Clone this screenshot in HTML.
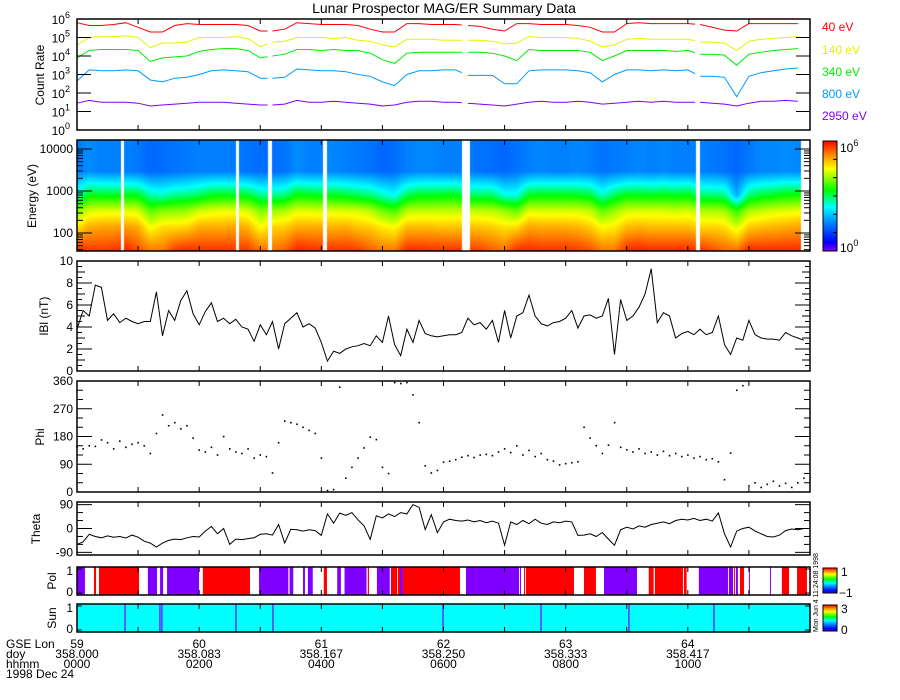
<!DOCTYPE html>
<html><head><meta charset="utf-8"><title>Lunar Prospector MAG/ER Summary Data</title>
<style>
html,body{margin:0;padding:0;background:#fff;}
#wrap{position:relative;width:900px;height:700px;overflow:hidden;background:#fff;}
svg{position:absolute;left:0;top:0;}
canvas{position:absolute;left:77px;top:140px;}
text{font-family:"Liberation Sans",sans-serif;}
</style></head>
<body>
<div id="wrap">
<canvas id="spec" width="734" height="111"></canvas>
<svg id="svg" width="900" height="700" xmlns="http://www.w3.org/2000/svg"></svg>
</div>
<script>
// ---------- DATA ----------
const countStart = 59.0;
const countStep = 0.1;
const channelNames = ["40 eV","140 eV","340 eV","800 eV","2950 eV"];
const channelEnergies = [40,140,340,800,2950];
const c40 = [5.8,5.65,5.65,5.7,5.8,5.55,5.3,5.3,5.65,5.75, 5.7,5.7,5.7,5.7,5.65,5.35,5.35,5.45,5.8,5.75, 5.7,5.7,5.7,5.65,5.45,5.3,5.3,5.75,5.75,5.7, 5.7,5.7,5.65,5.6,5.45,5.35,5.75,5.75,5.7,5.7, 5.7,5.65,5.55,5.3,5.3,5.75,5.8,5.75,5.75,5.75, 5.75,5.7,5.55,5.4,5.35,5.75,5.75,5.75,5.75,5.75, null];
const c140 = [4.6,5.0,5.05,5.05,5.1,5.0,4.45,4.7,4.7,4.75, 5.0,5.0,5.0,5.05,4.95,4.5,4.75,4.8,5.0,5.0, 5.0,4.95,5.0,4.85,4.8,4.6,4.5,4.9,4.9,4.9, 4.85,4.85,4.85,4.85,4.8,4.65,4.7,5.05,5.0,5.0, 5.0,4.95,4.8,4.5,4.6,4.9,4.95,4.9,4.9,4.9, 4.9,4.75,4.75,4.7,4.3,4.8,4.9,4.95,5.0,5.05, null];
const c340 = [3.9,4.3,4.35,4.35,4.35,4.3,3.7,3.9,3.95,4.0, 4.25,4.35,4.4,4.4,4.3,3.9,4.0,4.1,4.35,4.35, 4.3,4.35,4.3,4.3,4.15,3.8,3.6,4.15,4.2,4.2, 4.2,4.2,4.2,4.2,4.15,4.0,3.75,4.35,4.3,4.3, 4.3,4.3,4.2,3.75,4.0,4.3,4.3,4.3,4.3,4.25, 4.3,4.1,4.1,4.05,3.5,4.1,4.2,4.3,4.35,4.4, null];
const c800 = [2.65,3.25,3.2,3.2,3.25,3.2,2.7,2.6,2.8,2.85, 3.0,3.2,3.25,3.2,3.15,2.8,2.8,2.85,3.3,3.25, 3.2,3.2,3.15,3.0,2.9,2.6,2.4,3.0,3.2,3.2, 3.25,3.25,2.95,2.95,2.95,2.5,2.5,3.2,3.25,3.25, 3.25,3.2,3.1,2.6,3.0,3.25,3.25,3.2,3.25,3.2, 3.25,2.9,2.9,2.85,1.8,2.9,3.1,3.2,3.3,3.35, null];
const c2950 = [1.45,1.6,1.5,1.5,1.5,1.45,1.3,1.35,1.4,1.45, 1.5,1.5,1.5,1.45,1.4,1.35,1.35,1.4,1.6,1.5, 1.5,1.55,1.5,1.45,1.4,1.3,1.35,1.5,1.55,1.55, 1.5,1.5,1.45,1.4,1.35,1.3,1.4,1.5,1.55,1.5, 1.5,1.55,1.5,1.4,1.45,1.5,1.55,1.5,1.55,1.5, 1.5,1.5,1.45,1.4,1.3,1.45,1.55,1.55,1.6,1.55, null];
const lineGaps = [[60.56,60.6],[62.15,62.2],[64.06,64.1]];
const specGaps = [[59.36,59.385],[60.303,60.328],[60.566,60.598],[61.016,61.049],[62.148,62.221],[64.066,64.098]];
const specEnd = 64.93;

const magStart = 59.0;
const magStep = 0.05;
const bMag = [3.8,5.5,5.0,7.8,7.6,4.6,5.2,4.4,4.8,4.5, 4.3,4.5,4.5,7.2,3.2,5.5,4.6,6.4,7.3,5.2, 4.2,5.4,6.2,4.5,4.8,4.3,4.7,4.0,3.8,2.7, 4.2,3.3,4.5,2.0,4.3,4.8,5.3,4.0,4.3,3.9, 2.6,0.9,1.8,1.6,2.0,2.2,2.3,2.5,2.3,3.2, 2.6,5.0,2.4,1.4,3.8,2.6,4.6,3.4,3.2,3.1, 3.2,3.3,3.3,3.5,4.8,4.2,4.4,3.8,4.6,2.6, 5.5,3.0,5.0,5.3,6.9,5.0,4.3,4.1,4.4,4.5, 4.8,5.5,3.9,5.0,5.1,4.8,5.0,6.6,1.5,6.5, 4.6,5.0,5.8,7.0,9.3,4.4,5.3,5.0,3.0,3.4, 3.6,3.3,3.8,3.3,3.5,5.0,2.4,1.5,3.0,2.8, 4.6,3.3,3.0,2.9,2.9,2.8,3.5,3.2,3.0,2.8, null];
const phi = [146,140,150,148,169,160,140,165,145,155, 160,150,125,190,250,215,225,205,215,175, 136,130,145,120,180,140,130,125,140,110, 120,115,62,160,230,225,220,210,200,190, 110,5,8,340,45,80,110,143,178,170, 80,60,355,352,355,315,225,85,62,70, 97,100,105,113,118,112,120,122,118,130, 140,128,150,120,135,115,125,105,100,88, 92,95,98,210,175,150,125,152,225,145, 137,130,140,125,130,120,132,118,125,115, 120,110,115,105,108,98,40,126,330,345, 20,30,15,25,35,20,28,15,30,45, null];
const theta = [-60,-50,-22,-30,-35,-28,-33,-30,-36,-25, -33,-48,-55,-70,-55,-45,-40,-42,-35,-30, -32,-10,8,-20,0,-60,-40,-42,-38,-35, -22,-20,-25,15,-55,-3,-5,-10,-5,-8, -26,55,20,58,50,60,33,10,-41,48, 40,55,45,60,55,90,80,-4,52,-16, 25,35,30,28,32,25,30,22,28,20, -63,25,15,30,18,35,20,15,25,22, 28,25,-26,-25,-20,-30,-15,-40,-63,-5, 5,-2,10,5,15,20,25,18,30,35, 32,38,30,35,28,59,-20,-70,-10,0, 5,-10,-20,-30,-32,-25,-8,-2,-5,0, null];
// polarity segments: start lon, end lon, value (1 = red, -1 = purple)
const polStart = [59.0,59.139,59.18,59.58,59.68,59.737,60.03,60.49,60.74,60.85,60.89,61.02,61.13,61.19,61.38,61.455,61.57,61.627,61.644,61.668,62.184,62.626,62.659,62.675,63.15,63.314,63.68,63.73,63.968,64.09,64.337,64.378,64.394,64.427,64.5,64.672,64.77,64.894];
const polEnd   = [59.065,59.156,59.508,59.655,59.705,59.999,60.416,60.73,60.77,60.866,60.93,61.046,61.16,61.37,61.39,61.56,61.62,61.644,61.668,62.135,62.618,62.634,62.667,63.068,63.248,63.584,63.72,63.96,63.99,64.33,64.37,64.386,64.41,64.46,64.508,64.68,64.828,64.975];
const polVal   = [-1,1,1,-1,-1,-1,1,-1,-1,-1,-1,1,-1,-1,1,-1,1,1,-1,1,-1,-1,1,1,1,-1,1,1,1,-1,-1,1,-1,1,-1,-1,1,1];
const sunLines = [59.393,59.679,59.695,60.301,60.604,61.996,62.798,63.518,64.214];
const xTickLon = ["59","60","61","62","63","64"];
const xTickDoy = ["358.000","358.083","358.167","358.250","358.333","358.417"];
const xTickHhmm = ["0000","0200","0400","0600","0800","1000"];

// ---------- GEOMETRY ----------
const X0=77, X1=810, LON0=59, LON1=65;
const xs = t => X0 + (t-LON0)*(X1-X0)/(LON1-LON0);
const P = {
  count:{top:19,bot:130}, spec:{top:140,bot:251}, b:{top:261,bot:371},
  phi:{top:381,bot:492}, theta:{top:502,bot:555}, pol:{top:567,bot:595}, sun:{top:604,bot:632}
};
const yCount = v => P.count.bot - v*(P.count.bot-P.count.top)/6;
const yE = le => 149 + (4-le)*42;
const yB = v => P.b.bot - v*(P.b.bot-P.b.top)/10;
const yPhi = v => P.phi.bot - v*(P.phi.bot-P.phi.top)/360;
const yTh = v => (P.theta.top+P.theta.bot)/2 - v*(P.theta.bot-P.theta.top)/200;

const NS="http://www.w3.org/2000/svg";
const svg=document.getElementById('svg');
function el(tag, attrs, parent){const e=document.createElementNS(NS,tag);for(const k in attrs)e.setAttribute(k,attrs[k]);(parent||svg).appendChild(e);return e;}
function txt(s, x, y, anchor, size, color, parent){const e=el('text',{x:x,y:y,'text-anchor':anchor||'start','font-size':size||12,fill:color||'#000'},parent);e.textContent=s;return e;}

const stops=[[0,[128,0,255]],[0.08,[0,0,255]],[0.25,[0,128,255]],[0.4,[0,255,255]],[0.55,[0,255,0]],[0.75,[255,255,0]],[0.88,[255,128,0]],[1,[255,0,0]]];
function cmap(f){f=Math.max(0,Math.min(1,f));for(let i=1;i<stops.length;i++){if(f<=stops[i][0]){const a=stops[i-1],b=stops[i];const u=(f-a[0])/(b[0]-a[0]);return a[1].map((c,k)=>Math.round(c+(b[1][k]-c)*u));}}return stops[stops.length-1][1];}

const title=txt("Lunar Prospector MAG/ER Summary Data",444,13,'middle',14);



function frame(p,name){const r=el('rect',{x:X0,y:p.top,width:X1-X0,height:p.bot-p.top,fill:'none',stroke:'#000','stroke-width':1.5});

return r;}
function xTicks(p,g){for(let t=LON0;t<=LON1+1e-6;t+=0.5){const x=xs(t);el('line',{x1:x,x2:x,y1:p.top,y2:p.top+5,stroke:'#000'},g);el('line',{x1:x,x2:x,y1:p.bot,y2:p.bot-5,stroke:'#000'},g);}}
function yTick(y,len,g){el('line',{x1:X0,x2:X0+len,y1:y,y2:y,stroke:'#000'},g);el('line',{x1:X1,x2:X1-len,y1:y,y2:y,stroke:'#000'},g);}
function yTitle(s,x,y,name){const e=el('text',{x:x,y:y,'text-anchor':'middle','font-size':12,transform:`rotate(-90 ${x} ${y})`});e.textContent=s;

return e;}
function pw(base,exp,x,y,anchor,color,g){const e=el('text',{x:x,y:y,'text-anchor':anchor,'font-size':12,fill:color||'#000'},g);e.appendChild(document.createTextNode(base));const s=el('tspan',{dy:-6,'font-size':9},e);s.textContent=exp;return e;}
function polyline(vals,start,step,yf,g,color){let d='';let pen=false;for(let i=0;i<vals.length;i++){const v=vals[i];if(v===null){pen=false;continue;}const x=xs(start+i*step),y=yf(v);d+=(pen?'L':'M')+x.toFixed(1)+' '+y.toFixed(1);pen=true;}
return el('path',{d:d,fill:'none',stroke:color,'stroke-width':1},g);}

// ---------- PANEL 1 ----------
const g1=el('g',{});


const channels=[c40,c140,c340,c800,c2950];
const chColors=['#ff0000','#e8f000','#00ee00','#0099ff','#8000ff'];
channels.forEach((arr,i)=>{
  const p=polyline(arr,countStart,countStep,yCount,g1,chColors[i]);
  
  
});
lineGaps.forEach(gp=>{const r=el('rect',{x:xs(gp[0]),y:P.count.top+1,width:xs(gp[1])-xs(gp[0]),height:P.count.bot-P.count.top-2,fill:'#fff'},g1);

});
frame(P.count,'count-rate-frame');
xTicks(P.count,g1);
for(let d=0;d<=6;d++){const y=yCount(d);yTick(y,14,g1);const l=pw('10',String(d),70,y+5,'end','#000',g1);

}
yTitle('Count Rate',44,75,'count-rate-y-title');
const legY=[27,50,72,94,116];
channelNames.forEach((n,i)=>{const t=txt(n,822,legY[i]+4,'start',12,chColors[i]);

});

// ---------- PANEL 2 ----------
(function(){
  const cv=document.getElementById('spec');const ctx=cv.getContext('2d');
  const img=ctx.createImageData(734,111);const le=channelEnergies.map(Math.log10);
  function cAt(arr,t){const f=(t-countStart)/countStep;const i=Math.floor(f);const u=f-i;const a=arr[i],b=arr[Math.min(i+1,arr.length-1)];if(a==null)return b;if(b==null)return a;return a+(b-a)*u;}
  for(let px=0;px<734;px++){
    const t=LON0+(px+0.5)*(LON1-LON0)/(X1-X0);
    let white=t>specEnd;for(const gp of specGaps){if(t>=gp[0]&&t<=gp[1])white=true;}
    const vals=channels.map(a=>cAt(a,t));
    for(let py=0;py<111;py++){
      const idx=(py*734+px)*4;
      if(white||vals.some(v=>v==null)){img.data[idx]=255;img.data[idx+1]=255;img.data[idx+2]=255;img.data[idx+3]=255;continue;}
      const lg=4-((140+py+0.5)-149)/42;let v;
      if(lg<=le[0])v=vals[0];else if(lg>=le[4])v=vals[4];else{for(let k=0;k<4;k++){if(lg<=le[k+1]){const u=(lg-le[k])/(le[k+1]-le[k]);v=vals[k]+(vals[k+1]-vals[k])*u;break;}}}
      const c=cmap(v/6);img.data[idx]=c[0];img.data[idx+1]=c[1];img.data[idx+2]=c[2];img.data[idx+3]=255;
    }
  }
  ctx.putImageData(img,0,0);
})();
const g2=el('g',{});


frame(P.spec,'spectrogram-frame');
xTicks(P.spec,g2);
for(let d=1;d<=4;d++){for(let m=1;m<=9;m++){const y=yE(d+Math.log10(m));if(y<P.spec.top||y>P.spec.bot)continue;yTick(y,m===1?15:6,g2);}}
['100','1000','10000'].forEach((s,i)=>{const t=txt(s,73,yE(i+2)+4,'end',12,'#000',g2);

});
yTitle('Energy (eV)',36,196,'energy-y-title');
const defs=el('defs',{});
const lg=el('linearGradient',{id:'cb',x1:0,y1:1,x2:0,y2:0},defs);
stops.forEach(s=>el('stop',{offset:s[0],'stop-color':`rgb(${s[1].join(',')})`},lg));
const cb=el('rect',{x:823,y:141,width:14,height:110,fill:'url(#cb)',stroke:'#000','stroke-width':1});


for(let k=1;k<6;k++){const y=251-k*110/6;el('line',{x1:833,x2:837,y1:y,y2:y,stroke:'#000'});}
pw('10','6',840,152,'start','#000');
pw('10','0',840,252,'start','#000');

// ---------- PANEL 3 ----------
const g3=el('g',{});


const pb=polyline(bMag,magStart,magStep,yB,g3,'#000');


frame(P.b,'b-magnitude-frame');
xTicks(P.b,g3);
for(let v=0;v<=10;v+=0.5){yTick(yB(v),v%2===0?15:(v%1===0?8:5),g3);}
for(let v=0;v<=10;v+=2){const t=txt(String(v),73,yB(v)+4,'end',12,'#000',g3);

}
yTitle('lBl (nT)',48,316,'b-y-title');

// ---------- PANEL 4 ----------
const g4=el('g',{});


phi.forEach((v,i)=>{if(v===null)return;const d=el('rect',{x:xs(magStart+i*magStep)-0.75,y:yPhi(v)-0.75,width:1.6,height:1.6,fill:'#000'},g4);

});
frame(P.phi,'phi-frame');
xTicks(P.phi,g4);
for(let v=0;v<=360;v+=30){yTick(yPhi(v),v%90===0?15:6,g4);}
for(let v=0;v<=360;v+=90){const t=txt(String(v),73,yPhi(v)+4,'end',12,'#000',g4);

}
yTitle('Phi',44,437,'phi-y-title');

// ---------- PANEL 5 ----------
const g5=el('g',{});


const pt=polyline(theta,magStart,magStep,yTh,g5,'#000');


frame(P.theta,'theta-frame');
xTicks(P.theta,g5);
for(let v=-90;v<=90;v+=30){yTick(yTh(v),v%90===0?15:6,g5);}
[-90,0,90].forEach(v=>{const t=txt(String(v),73,yTh(v)+4,'end',12,'#000',g5);

});
yTitle('Theta',40,529,'theta-y-title');

// ---------- PANEL 6 ----------
const g6=el('g',{});


polStart.forEach((s,i)=>{const r=el('rect',{x:xs(s),y:P.pol.top,width:Math.max(1,xs(polEnd[i])-xs(s)),height:P.pol.bot-P.pol.top,fill:polVal[i]>0?'#ff0000':'#8000ff'},g6);

});
frame(P.pol,'polarity-frame');
xTicks(P.pol,g6);
yTick(P.pol.top+2,5,g6);yTick(P.pol.bot-2,5,g6);
txt('1',73,P.pol.top+8,'end',12,'#000',g6);txt('0',73,P.pol.bot+1,'end',12,'#000',g6);
yTitle('Pol',56,581,'polarity-y-title');
const lg2=el('linearGradient',{id:'cb2',x1:0,y1:1,x2:0,y2:0},defs);
stops.forEach(s=>el('stop',{offset:s[0],'stop-color':`rgb(${s[1].join(',')})`},lg2));
const cb2=el('rect',{x:823,y:568,width:14,height:25,fill:'url(#cb2)',stroke:'#000'});


txt('1',841,576,'start',12);txt('\u22121',839,597,'start',12);

// ---------- PANEL 7 ----------
const g7=el('g',{});


const sunBg=el('rect',{x:X0,y:P.sun.top,width:X1-X0,height:P.sun.bot-P.sun.top,fill:'#00ffff'},g7);


sunLines.forEach(s=>{const l=el('line',{x1:xs(s),x2:xs(s),y1:P.sun.top,y2:P.sun.bot,stroke:'#8000ff','stroke-width':1.2},g7);

});
frame(P.sun,'sun-frame');
xTicks(P.sun,g7);
yTick(P.sun.top+2,5,g7);yTick(P.sun.bot-2,5,g7);
txt('1',73,P.sun.top+8,'end',12,'#000',g7);txt('0',73,P.sun.bot+1,'end',12,'#000',g7);
yTitle('Sun',56,618,'sun-y-title');
const lg3=el('linearGradient',{id:'cb3',x1:0,y1:1,x2:0,y2:0},defs);
stops.forEach(s=>el('stop',{offset:s[0],'stop-color':`rgb(${s[1].join(',')})`},lg3));
const cb3=el('rect',{x:823,y:605,width:14,height:26,fill:'url(#cb3)',stroke:'#000'});


txt('3',841,613,'start',12);txt('0',841,634,'start',12);
const stamp=el('text',{x:818,y:632,'font-size':7,transform:'rotate(-90 818 632)'});
stamp.textContent='Mon Jun  4 11:24:08 1998';



// ---------- X axis labels ----------
const rows=[['GSE Lon',648,xTickLon],['doy',658,xTickDoy],['hhmm',668,xTickHhmm]];
rows.forEach(r=>{const h=txt(r[0],6,r[1],'start',12);


r[2].forEach((s,i)=>{const t=txt(s,xs(59+i),r[1],'middle',12);

});});
const dt=txt('1998 Dec 24',6,678,'start',12);


</script>
</body></html>
